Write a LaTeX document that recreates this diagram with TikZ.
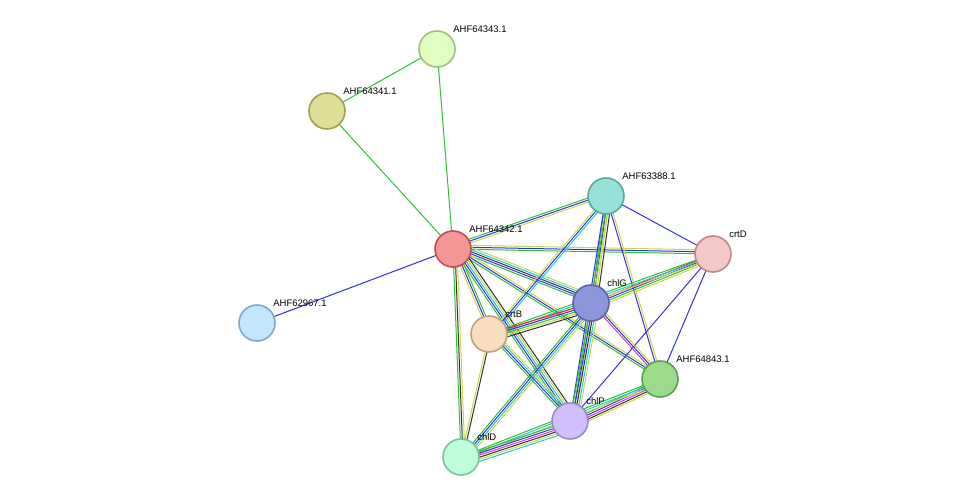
\documentclass[tikz,border=0pt]{standalone}
\usepackage{fontspec}
\setmainfont{Liberation Sans}
\usetikzlibrary{calc}

\definecolor{tm}{HTML}{C8D846}
\definecolor{db}{HTML}{22C8E0}
\definecolor{cb}{HTML}{3030E8}
\definecolor{ng}{HTML}{30C030}
\definecolor{ex}{HTML}{D040C8}
\definecolor{fu}{HTML}{F02020}
\definecolor{ce}{HTML}{303030}

\tikzset{
  prot/.style={circle,draw,line width=1.6pt,minimum size=36pt,inner sep=0},
  lbl/.style={font=\fontsize{9.5}{11}\selectfont,inner sep=0,label distance=4pt}
}

% draws one link as parallel lines, one for each colour
\newcommand{\link}[3]{%
  \foreach \c [count=\i] in {#3} {%
    \pgfmathsetmacro{\off}{(\i-1)*2}
    \draw[\c,line width=1pt] ($(#1)!\off pt!90:(#2)$) -- ($(#2)!\off pt!-90:(#1)$);
  }}

\begin{document}
\begin{tikzpicture}[x=1pt,y=-1pt]
\useasboundingbox (0,0) rectangle (975,502);

\coordinate (a) at (437,49);
\coordinate (b) at (327,111);
\coordinate (c) at (606,196);
\coordinate (d) at (453,249);
\coordinate (e) at (713,254);
\coordinate (f) at (257,323);
\coordinate (g) at (591,303);
\coordinate (h) at (489,334);
\coordinate (i) at (660,379);
\coordinate (j) at (570,421);
\coordinate (k) at (461,457);

\link{a}{b}{ng}
\link{a}{d}{ng}
\link{b}{d}{ng}
\link{f}{d}{cb}
\link{d}{c}{tm,cb,ng}
\link{d}{e}{ng,cb,tm}
\link{d}{g}{ng,cb,ce,db,tm}
\link{d}{h}{tm,cb,ng}
\link{d}{i}{ng,cb,tm}
\link{d}{j}{ng,cb,db,tm,ce}
\link{d}{k}{ng,ce,tm}
\link{c}{e}{cb}
\link{c}{g}{ng,cb,tm,ce}
\link{c}{h}{tm,cb,db}
\link{c}{i}{cb,tm}
\link{c}{j}{cb,ng,tm}
\link{e}{g}{fu,cb,ng,tm}
\link{e}{h}{ng,db,tm}
\link{e}{i}{cb}
\link{e}{j}{cb}
\link{g}{h}{fu,cb,ng,tm,ce}
\link{g}{i}{ex,cb,tm}
\link{g}{j}{ng,cb,ce,db,tm}
\link{g}{k}{ng,cb,db,tm}
\link{h}{j}{ng,cb,db,tm}
\link{h}{k}{tm,ce}
\link{i}{j}{ng,cb,ex,ce,tm}
\link{i}{k}{ng,db,tm}
\link{j}{k}{ng,cb,ex,ce,tm,db}

\node[prot,fill={rgb,255:red,224;green,255;blue,192},draw={rgb,255:red,160;green,192;blue,128},label={[lbl,anchor=south west]45:AHF64343.1}] (n1) at (a) {};
\node[prot,fill={rgb,255:red,222;green,222;blue,150},draw={rgb,255:red,160;green,160;blue,80},label={[lbl,anchor=south west]45:AHF64341.1}] (n2) at (b) {};
\node[prot,fill={rgb,255:red,149;green,224;blue,216},draw={rgb,255:red,90;green,168;blue,160},label={[lbl,anchor=south west]45:AHF63388.1}] (n3) at (c) {};
\node[prot,fill={rgb,255:red,245;green,150;blue,150},draw={rgb,255:red,192;green,80;blue,80},label={[lbl,anchor=south west]45:AHF64342.1}] (n4) at (d) {};
\node[prot,fill={rgb,255:red,245;green,200;blue,200},draw={rgb,255:red,192;green,136;blue,136},label={[lbl,anchor=south west]45:crtD}] (n5) at (e) {};
\node[prot,fill={rgb,255:red,195;green,230;blue,250},draw={rgb,255:red,128;green,168;blue,200},label={[lbl,anchor=south west]45:AHF62967.1}] (n6) at (f) {};
\node[prot,fill={rgb,255:red,140;green,150;blue,220},draw={rgb,255:red,90;green,100;blue,168},label={[lbl,anchor=south west]45:chlG}] (n7) at (g) {};
\node[prot,fill={rgb,255:red,250;green,220;blue,190},draw={rgb,255:red,192;green,160;blue,128},label={[lbl,anchor=south west]45:crtB}] (n8) at (h) {};
\node[prot,fill={rgb,255:red,155;green,220;blue,140},draw={rgb,255:red,90;green,160;blue,80},label={[lbl,anchor=south west]45:AHF64843.1}] (n9) at (i) {};
\node[prot,fill={rgb,255:red,210;green,190;blue,255},draw={rgb,255:red,154;green,136;blue,200},label={[lbl,anchor=south west]45:chlP}] (n10) at (j) {};
\node[prot,fill={rgb,255:red,190;green,255;blue,217},draw={rgb,255:red,128;green,192;blue,160},label={[lbl,anchor=south west]45:chlD}] (n11) at (k) {};
\end{tikzpicture}
\end{document}
